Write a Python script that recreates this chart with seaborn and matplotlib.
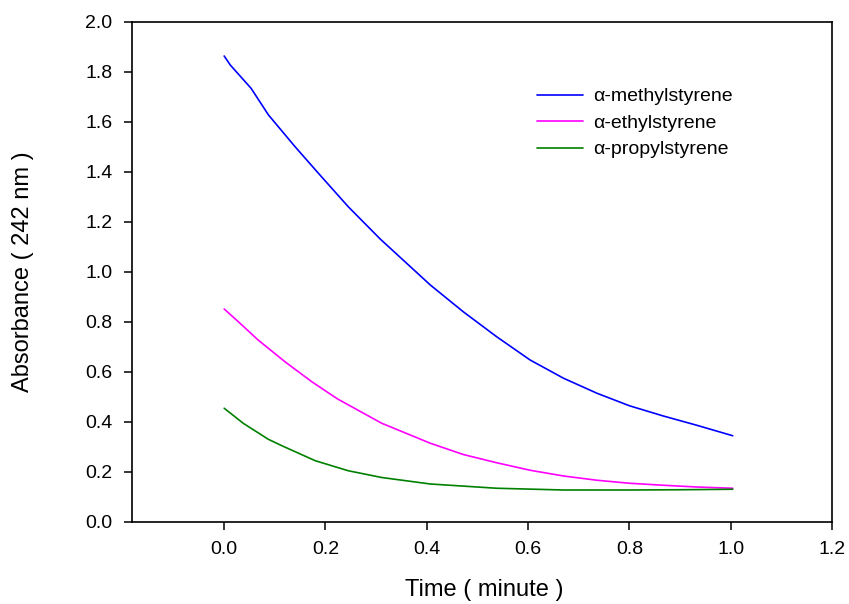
import numpy as np
import pandas as pd
import matplotlib
matplotlib.use("Agg")
import matplotlib.pyplot as plt
import seaborn as sns

# Absorbance decay at 242 nm for three alpha-alkylstyrenes
time_methyl = [0.0, 0.012, 0.053, 0.0875, 0.14, 0.186, 0.245, 0.308, 0.407, 0.472,
               0.538, 0.604, 0.67, 0.736, 0.80, 0.867, 0.933, 1.004]
abs_methyl = [1.864, 1.828, 1.735, 1.628, 1.501, 1.395, 1.261, 1.132, 0.948, 0.841,
              0.741, 0.648, 0.575, 0.515, 0.465, 0.424, 0.387, 0.345]

time_ethyl = [0.0, 0.028, 0.067, 0.12, 0.173, 0.224, 0.311, 0.407, 0.472, 0.538,
              0.604, 0.67, 0.736, 0.80, 0.867, 0.933, 1.004]
abs_ethyl = [0.852, 0.801, 0.728, 0.641, 0.561, 0.492, 0.395, 0.315, 0.270, 0.237,
             0.207, 0.184, 0.167, 0.155, 0.147, 0.140, 0.135]

time_propyl = [0.0, 0.0375, 0.087, 0.114, 0.18, 0.245, 0.311, 0.407, 0.538, 0.67,
               0.80, 0.90, 1.004]
abs_propyl = [0.455, 0.395, 0.331, 0.305, 0.245, 0.205, 0.178, 0.152, 0.135, 0.128,
              0.128, 0.129, 0.131]

series_names = ["α-methylstyrene", "α-ethylstyrene", "α-propylstyrene"]
series_colors = ["#0000ff", "#ff00ff", "#008000"]

x_ticks = [0.0, 0.2, 0.4, 0.6, 0.8, 1.0, 1.2]
y_ticks = [0.0, 0.2, 0.4, 0.6, 0.8, 1.0, 1.2, 1.4, 1.6, 1.8, 2.0]

frames = []
for name, t, a in zip(series_names,
                      [time_methyl, time_ethyl, time_propyl],
                      [abs_methyl, abs_ethyl, abs_propyl]):
    frames.append(pd.DataFrame({"time": t, "absorbance": a, "compound": name}))
data = pd.concat(frames, ignore_index=True)

sns.set_style("ticks")
plt.rcParams["font.family"] = ["Liberation Sans", "DejaVu Sans"]
plt.rcParams["text.color"] = "black"
plt.rcParams["axes.labelcolor"] = "black"
plt.rcParams["xtick.color"] = "black"
plt.rcParams["ytick.color"] = "black"

fig = plt.figure(figsize=(8.49, 6.04), dpi=100)
ax = fig.add_axes([132 / 849, 82 / 604, 700 / 849, 500 / 604])

sns.lineplot(data=data, x="time", y="absorbance", hue="compound",
             hue_order=series_names, palette=series_colors,
             linewidth=1.2, sort=False, ax=ax, legend=True)

ax.set_xlim(-0.182, 1.2)
ax.set_ylim(0.0, 2.0)
ax.set_xticks(x_ticks)
ax.set_yticks(y_ticks)
ax.set_xticklabels([f"{v:.1f}" for v in x_ticks])
ax.set_yticklabels([f"{v:.1f}" for v in y_ticks])

for side in ["top", "right", "left", "bottom"]:
    ax.spines[side].set_visible(True)
    ax.spines[side].set_linewidth(1.2)
    ax.spines[side].set_color("black")

ax.tick_params(axis="both", direction="out", length=6, width=1.1,
               labelsize=14, pad=8, colors="black",
               top=False, right=False)

ax.set_xlabel("Time ( minute )", fontsize=17, color="black")
ax.set_ylabel("Absorbance ( 242 nm )", fontsize=17, color="black")
ax.xaxis.set_label_coords(0.5 + (484 - 482) / 700, -57 / 500)
ax.yaxis.set_label_coords(-98 / 700, 0.5)

leg = ax.legend(loc="upper left", bbox_to_anchor=(0.568, 0.884), frameon=False,
                fontsize=14, handlelength=2.37, handletextpad=0.5,
                labelspacing=0.46, borderaxespad=0)
for txt in leg.get_texts():
    txt.set_color("black")

fig.savefig("out.png", dpi=100)
